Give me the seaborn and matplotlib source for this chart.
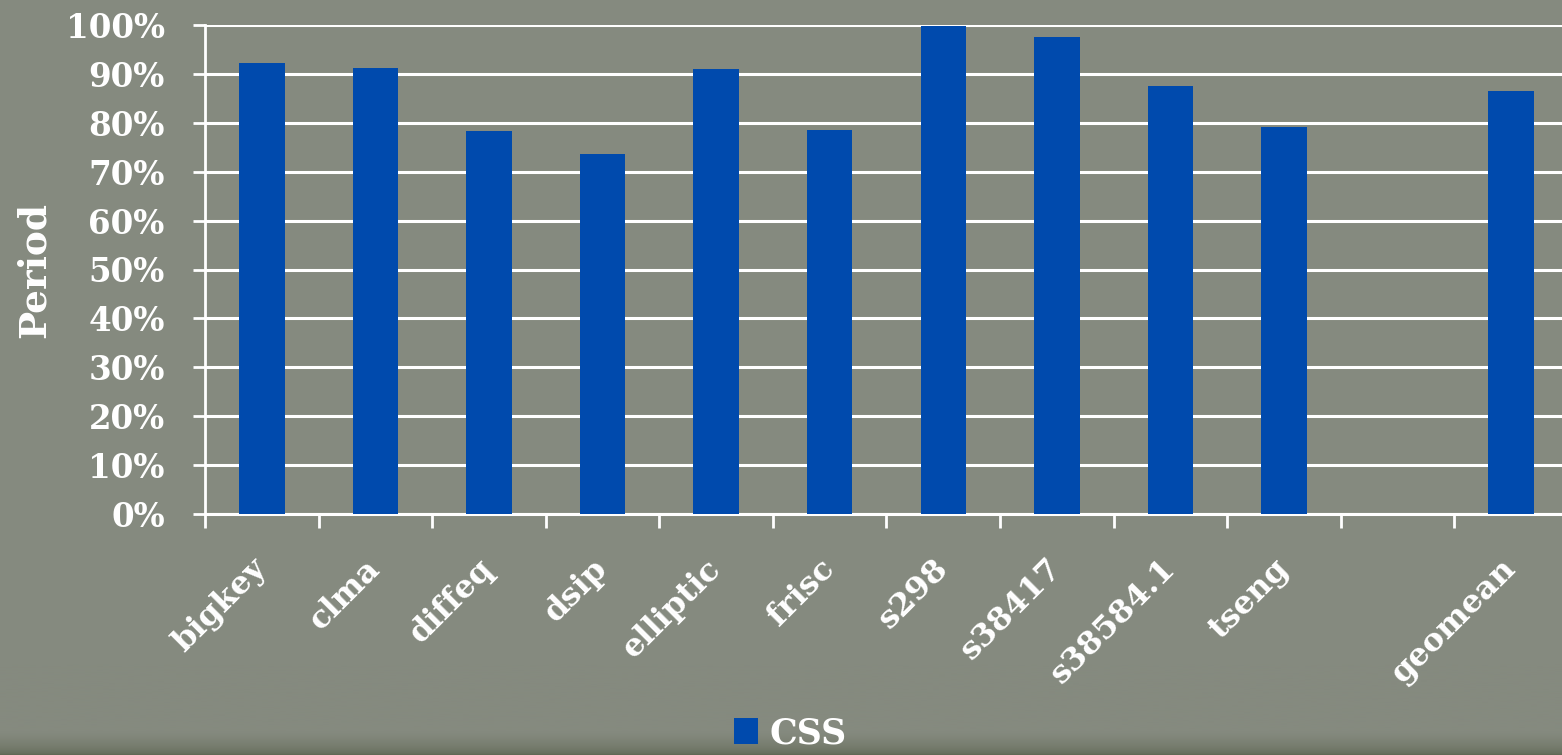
import matplotlib
matplotlib.use("Agg")
import matplotlib.pyplot as plt
import seaborn as sns
import pandas as pd
import numpy as np
from matplotlib.patches import Patch
from matplotlib.colors import LinearSegmentedColormap

categories = ["bigkey", "clma", "diffeq", "dsip", "elliptic", "frisc", "s298",
              "s38417", "s38584.1", "tseng", "", "geomean"]
css_values = [0.922, 0.912, 0.783, 0.736, 0.910, 0.785, 0.998, 0.975, 0.875,
              0.791, None, 0.865]
series_name = "CSS"
y_ticks = [0.0, 0.1, 0.2, 0.3, 0.4, 0.5, 0.6, 0.7, 0.8, 0.9, 1.0]
y_tick_labels = ["0%", "10%", "20%", "30%", "40%", "50%", "60%", "70%", "80%", "90%", "100%"]

BG = "#858a7f"
BLUE = "#004aad"
FONT = ["DejaVu Serif"]

sns.set_theme(style="white")
plt.rcParams["font.family"] = FONT
plt.rcParams["font.weight"] = "bold"

df = pd.DataFrame({"bench": categories, "value": css_values})
df_plot = df.dropna()

fig = plt.figure(figsize=(15.62, 7.55), dpi=100, facecolor=BG)

# subtle darker band at the bottom of the backdrop
bg_ax = fig.add_axes([0, 0, 1, 1], zorder=-10)
grad = np.linspace(0, 1, 200)[:, None]
cmap = LinearSegmentedColormap.from_list("bg", ["#5e6652", BG, BG])
bg_ax.imshow(grad ** 0.5, aspect="auto", cmap=cmap, extent=[0, 1, 0, 0.12], origin="lower")
bg_ax.set_xlim(0, 1)
bg_ax.set_ylim(0, 1)
bg_ax.set_facecolor(BG)
bg_ax.axis("off")

ax = fig.add_axes([205 / 1562, 241 / 755, 1363 / 1562, 489 / 755])
ax.set_facecolor(BG)

sns.barplot(data=df_plot, x="bench", y="value", order=categories, color=BLUE,
            width=0.4, saturation=1, linewidth=0, edgecolor="none", ax=ax, zorder=3)

ax.set_xlim(-0.5, len(categories) - 0.5)
ax.set_ylim(0, 1.0)
ax.set_yticks(y_ticks)
ax.set_yticklabels(y_tick_labels)
ax.yaxis.grid(True, color="white", linewidth=2.2, zorder=1)
ax.set_axisbelow(True)

for s in ["top", "right"]:
    ax.spines[s].set_visible(False)
ax.spines["left"].set_color("white")
ax.spines["left"].set_linewidth(2)
ax.spines["bottom"].set_color("white")
ax.spines["bottom"].set_linewidth(2.2)
ax.spines["left"].set_zorder(4)

ax.tick_params(axis="y", which="major", left=True, length=9, width=2, color="white",
               pad=20, labelsize=23.5, labelcolor="white")
ax.set_xticks(range(len(categories)))
ax.set_xticklabels(categories, rotation=45, ha="right", va="center",
                   rotation_mode="anchor")
ax.tick_params(axis="x", which="major", length=0, pad=36, labelsize=23, labelcolor="white")
ax.set_xticks([i - 0.5 for i in range(len(categories) + 1)], minor=True)
ax.tick_params(axis="x", which="minor", bottom=True, length=10, width=2, color="white")
for lab in ax.get_xticklabels() + ax.get_yticklabels():
    lab.set_fontweight("bold")

ax.set_xlabel("")
ax.set_ylabel("Period", color="white", fontsize=27, fontweight="bold")
ax.yaxis.set_label_coords(-152 / 1363, 0.5)

handles = [Patch(facecolor=BLUE, edgecolor="none", label=series_name)]
leg = fig.legend(handles=handles, loc="lower center", bbox_to_anchor=(0.506, -0.035),
                 frameon=False, handlelength=0.7, handleheight=0.8,
                 handletextpad=0.35, labelcolor="white", prop={"weight": "bold", "size": 25})

fig.savefig("out.png", dpi=100, facecolor=BG)
